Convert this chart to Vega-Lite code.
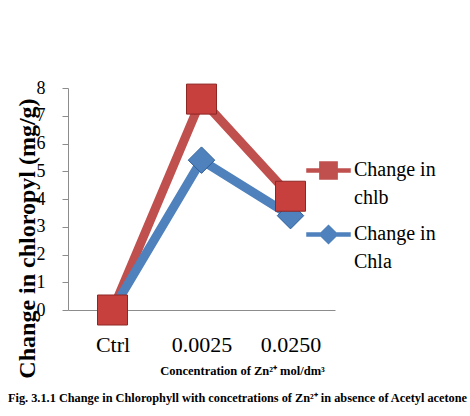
{
  "$schema": "https://vega.github.io/schema/vega-lite/v6.json",
  "width": 267,
  "height": 222,
  "autosize": {"type": "none"},
  "padding": {"left": 68, "top": 88, "right": 135, "bottom": 106},
  "background": "white",
  "title": {
    "text": "Fig. 3.1.1 Change in Chlorophyll with concetrations of Zn²⁺ in absence of Acetyl acetone",
    "orient": "bottom",
    "anchor": "middle",
    "frame": "group",
    "dx": 36,
    "offset": 14,
    "font": "Liberation Serif",
    "fontSize": 12.3,
    "fontWeight": "bold",
    "color": "black"
  },
  "data": {
    "values": [
      {"conc": "Ctrl", "series": "Change in chlb", "value": 0},
      {"conc": "0.0025", "series": "Change in chlb", "value": 7.6},
      {"conc": "0.0250", "series": "Change in chlb", "value": 4.1},
      {"conc": "Ctrl", "series": "Change in Chla", "value": 0},
      {"conc": "0.0025", "series": "Change in Chla", "value": 5.4},
      {"conc": "0.0250", "series": "Change in Chla", "value": 3.4}
    ]
  },
  "encoding": {
    "x": {
      "field": "conc",
      "type": "ordinal",
      "sort": ["Ctrl", "0.0025", "0.0250"],
      "scale": {"type": "point", "padding": 0.5},
      "axis": {
        "title": "Concentration of Zn²⁺ mol/dm³",
        "titleFont": "Liberation Serif",
        "titleFontSize": 12.5,
        "titleFontWeight": "bold",
        "titleColor": "black",
        "titleX": 174,
        "titleY": 60,
        "titleBaseline": "middle",
        "titleAnchor": null,
        "labelAngle": 0,
        "labelFont": "Liberation Serif",
        "labelFontSize": 22,
        "labelColor": "black",
        "labelPadding": 24,
        "ticks": false,
        "tickSize": 0,
        "domainColor": "#8c8c8c",
        "domainWidth": 1,
        "grid": false
      }
    },
    "y": {
      "field": "value",
      "type": "quantitative",
      "scale": {"domain": [0, 8], "nice": false},
      "axis": {
        "title": "Change in chloropyl (mg/g)",
        "titleFont": "Liberation Serif",
        "titleFontSize": 24,
        "titleFontWeight": "bold",
        "titleColor": "black",
        "titleX": -41,
        "titleY": 150,
        "titleAlign": "center",
        "titleBaseline": "middle",
        "titleAngle": 270,
        "values": [0, 1, 2, 3, 4, 5, 6, 7, 8],
        "labelFont": "Liberation Serif",
        "labelFontSize": 18,
        "labelColor": "black",
        "labelPadding": 17,
        "tickSize": 6,
        "tickColor": "#8c8c8c",
        "domainColor": "#8c8c8c",
        "grid": false
      }
    }
  },
  "layer": [
    {
      "mark": {"type": "point", "filled": true, "opacity": 0, "size": 10},
      "encoding": {
        "color": {
          "field": "series",
          "type": "nominal",
          "scale": {"domain": ["Change in chlb", "Change in Chla"], "range": ["#C0504D", "#4F81BD"]},
          "legend": {
            "title": null,
            "orient": "none",
            "legendX": 238,
            "legendY": 60,
            "symbolSize": 1850,
            "symbolOpacity": 1,
            "labelFont": "Liberation Serif",
            "labelFontSize": 20,
            "labelColor": "black",
            "labelExpr": "['Change in', slice(datum.label, 10)]",
            "labelBaseline": "top",
            "labelOffset": 3,
            "rowPadding": 4,
            "padding": 0,
            "encode": {"labels": {"update": {"dy": {"value": -11}, "lineHeight": {"value": 28}}}}
          }
        },
        "shape": {
          "field": "series",
          "type": "nominal",
          "scale": {
            "domain": ["Change in chlb", "Change in Chla"],
            "range": [
              "M-1,-0.07H1V0.07H-1Z M-0.4,-0.4H0.4V0.4H-0.4Z",
              "M-1,-0.07H1V0.07H-1Z M0,-0.42L0.42,0L0,0.42L-0.42,0Z"
            ]
          },
          "legend": {
            "title": null,
            "orient": "none",
            "legendX": 238,
            "legendY": 60,
            "symbolSize": 1850,
            "symbolOpacity": 1,
            "labelFont": "Liberation Serif",
            "labelFontSize": 20,
            "labelColor": "black",
            "labelExpr": "['Change in', slice(datum.label, 10)]",
            "labelBaseline": "top",
            "labelOffset": 3,
            "rowPadding": 4,
            "padding": 0,
            "encode": {"labels": {"update": {"dy": {"value": -11}, "lineHeight": {"value": 28}}}}
          }
        }
      }
    },
    {
      "mark": {"type": "line", "strokeWidth": 9},
      "encoding": {
        "color": {"field": "series", "type": "nominal", "legend": null},
        "order": {"field": "series", "type": "nominal"}
      }
    },
    {
      "transform": [{"filter": "datum.series == 'Change in Chla'"}],
      "mark": {"type": "point", "shape": "diamond", "filled": true, "size": 700, "color": "#4F81BD", "stroke": "#2f5f99", "strokeWidth": 1, "opacity": 1}
    },
    {
      "transform": [{"filter": "datum.series == 'Change in chlb'"}],
      "mark": {"type": "point", "shape": "square", "filled": true, "size": 900, "color": "#C8403D", "stroke": "#8e2624", "strokeWidth": 1, "opacity": 1}
    }
  ],
  "config": {
    "view": {"stroke": null}
  }
}
